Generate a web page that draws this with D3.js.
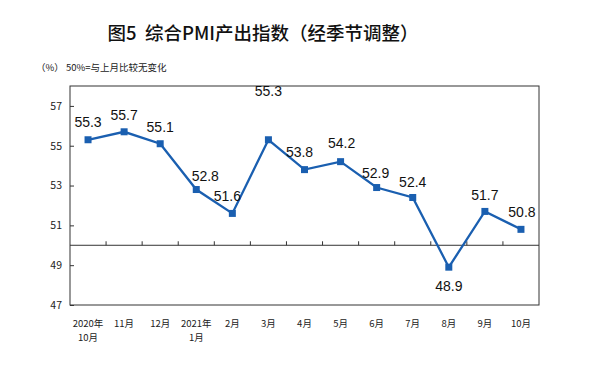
<!DOCTYPE html>
<html><head><meta charset="utf-8">
<script src="https://cdn.jsdelivr.net/npm/d3@7"></script>
<style>body{margin:0;background:#fff}</style>
</head><body>
<script>
const categories = ["2020年\n10月","11月","12月","2021年\n1月","2月","3月","4月","5月","6月","7月","8月","9月","10月"];
const values = [55.3,55.7,55.1,52.8,51.6,55.3,53.8,54.2,52.9,52.4,48.9,51.7,50.8];
const yTicks = [47,49,51,53,55,57];
// label placement offsets in pixels [dx, dy]
const labelOffsets = [[0,-18],[0,-17],[0,-17],[9,-14],[-5,-17],[0,-49],[-5,-18],[1,-19],[-1,-15],[0,-15],[0,19],[0,-16],[1,-17]];

const W=596,H=368;
const svg=d3.select("body").append("svg").attr("width",W).attr("height",H);
const L=70,R=539,T=86,B=305;
const x=d3.scaleBand().domain(d3.range(categories.length)).range([L,R]);
const y=d3.scaleLinear().domain([47,58]).range([B,T]);
const font='"Noto Sans CJK SC","Noto Sans",sans-serif';
const col="#1a5fb0";

svg.append("text").attr("x",263).attr("y",40).attr("text-anchor","middle")
  .attr("font-family",font).attr("font-weight","500").attr("font-size",18.5).attr("fill","#111")
  .attr("xml:space","preserve")
  .text("图5  综合PMI产出指数（经季节调整）");
svg.append("text").attr("x",36).attr("y",71).attr("font-family",font).attr("font-size",9.5).attr("fill","#222").text("（%）");
svg.append("text").attr("x",66).attr("y",71).attr("font-family",font).attr("font-size",9.5).attr("fill","#222").text("50%=与上月比较无变化");

// frame
svg.append("rect").attr("x",L).attr("y",T).attr("width",R-L).attr("height",B-T)
  .attr("fill","none").attr("stroke","#333").attr("stroke-width",1);

// y axis
const ya=svg.append("g").attr("transform",`translate(${L},0)`)
  .call(d3.axisRight(y).tickValues(yTicks).tickSize(4).tickFormat(d3.format("d")));
ya.select(".domain").remove();
ya.selectAll("line").attr("stroke","#333");
ya.selectAll("text").attr("x",-8).attr("text-anchor","end").attr("font-family",font).attr("font-size",10.5).attr("fill","#222");

// x axis at 50
const xa=svg.append("g").attr("transform",`translate(0,${y(50)})`);
xa.append("line").attr("x1",L).attr("x2",R).attr("stroke","#333");
xa.selectAll("line.t").data(d3.range(1,categories.length)).join("line").attr("class","t")
  .attr("x1",i=>x(i)).attr("x2",i=>x(i)).attr("y1",0).attr("y2",-4).attr("stroke","#333");

// category labels
const xl=svg.append("g");
categories.forEach((c,i)=>{
  const t=xl.append("text").attr("x",x(i)+x.bandwidth()/2).attr("y",327).attr("text-anchor","middle")
    .attr("font-family",font).attr("font-size",9.5).attr("fill","#222");
  c.split("\n").forEach((s,k)=>t.append("tspan").attr("x",x(i)+x.bandwidth()/2).attr("dy",k?14:0).text(s));
});

const cx=i=>x(i)+x.bandwidth()/2;
svg.append("path").datum(values).attr("fill","none").attr("stroke",col).attr("stroke-width",2.3)
  .attr("d",d3.line().x((d,i)=>cx(i)).y(d=>y(d)));
svg.selectAll("rect.m").data(values).join("rect").attr("class","m")
  .attr("x",(d,i)=>cx(i)-3.5).attr("y",d=>y(d)-3.5).attr("width",7).attr("height",7).attr("fill",col);
svg.selectAll("text.v").data(values).join("text").attr("class","v")
  .attr("x",(d,i)=>cx(i)+labelOffsets[i][0]).attr("y",(d,i)=>y(d)+labelOffsets[i][1]+5)
  .attr("text-anchor","middle").attr("font-family",'"Liberation Sans",Arial,sans-serif').attr("font-size",14).attr("fill","#111")
  .text(d=>d.toFixed(1));
</script>
</body></html>
